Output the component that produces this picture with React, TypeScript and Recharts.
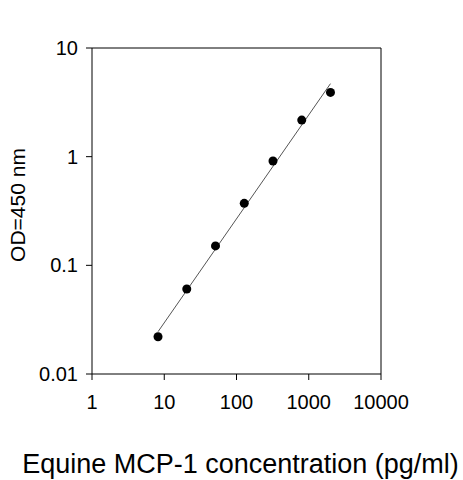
import { ComposedChart, Scatter, Line, XAxis, YAxis, Label, ReferenceLine } from "recharts";

// MCP-1 standard concentrations (pg/ml) and measured OD
const concentration = [8.2, 20.5, 51.2, 128, 320, 800, 2000];
const od = [0.022, 0.0605, 0.151, 0.372, 0.912, 2.17, 3.9];

// fitted line end points
const fitConc = [8.2, 2000];
const fitOd = [0.0245, 4.7];

const xTicks = [1, 10, 100, 1000, 10000];
const yTicks = [0.01, 0.1, 1, 10];

const points = concentration.map((c, i) => ({ c, od: od[i] }));
const fit = fitConc.map((c, i) => ({ c, od: fitOd[i] }));

const font = "'Liberation Sans', Arial, sans-serif";
const fmt = (v: number) => String(v);

export default function App() {
  return (
    <div style={{ position: "absolute", left: 0, top: 0, width: 463, height: 480, background: "#fff" }}>
      <ComposedChart width={463} height={480} margin={{ top: 48, right: 82, bottom: 0, left: 0 }} style={{ fontFamily: font }}>
        <XAxis
          dataKey="c"
          type="number"
          scale="log"
          domain={[1, 10000]}
          ticks={xTicks}
          allowDataOverflow
          tickFormatter={fmt}
          height={106}
          stroke="#000"
          tickSize={6}
          tickMargin={15}
          tick={{ fontSize: 20, fill: "#000" }}
        >
          <Label value="Equine MCP-1 concentration (pg/ml)" position="insideBottom" offset={7} dx={4} fontSize={27} fill="#000" />
        </XAxis>
        <YAxis
          dataKey="od"
          type="number"
          scale="log"
          domain={[0.01, 10]}
          ticks={yTicks}
          allowDataOverflow
          tickFormatter={fmt}
          width={92}
          stroke="#000"
          tickSize={6}
          tickMargin={8}
          tick={{ fontSize: 20, fill: "#000" }}
        >
          <Label
            value="OD=450 nm"
            content={({ viewBox }: any) => (
              <text
                x={17}
                y={viewBox.y + viewBox.height / 2 - 6}
                transform={`rotate(-90, 17, ${viewBox.y + viewBox.height / 2 - 6})`}
                textAnchor="middle"
                dominantBaseline="central"
                fontSize={21}
                fill="#000"
              >
                OD=450 nm
              </text>
            )}
          />
        </YAxis>
        {/* frame on top and right */}
        <ReferenceLine y={10} stroke="#000" strokeWidth={1} />
        <ReferenceLine x={10000} stroke="#000" strokeWidth={1} />
        <Line data={fit} dataKey="od" stroke="#555" strokeWidth={1} dot={false} isAnimationActive={false} />
        <Scatter data={points} dataKey="od" fill="#000" shape={(p: any) => <circle cx={p.cx} cy={p.cy} r={4.5} fill="#000" />} isAnimationActive={false} />
      </ComposedChart>
    </div>
  );
}
